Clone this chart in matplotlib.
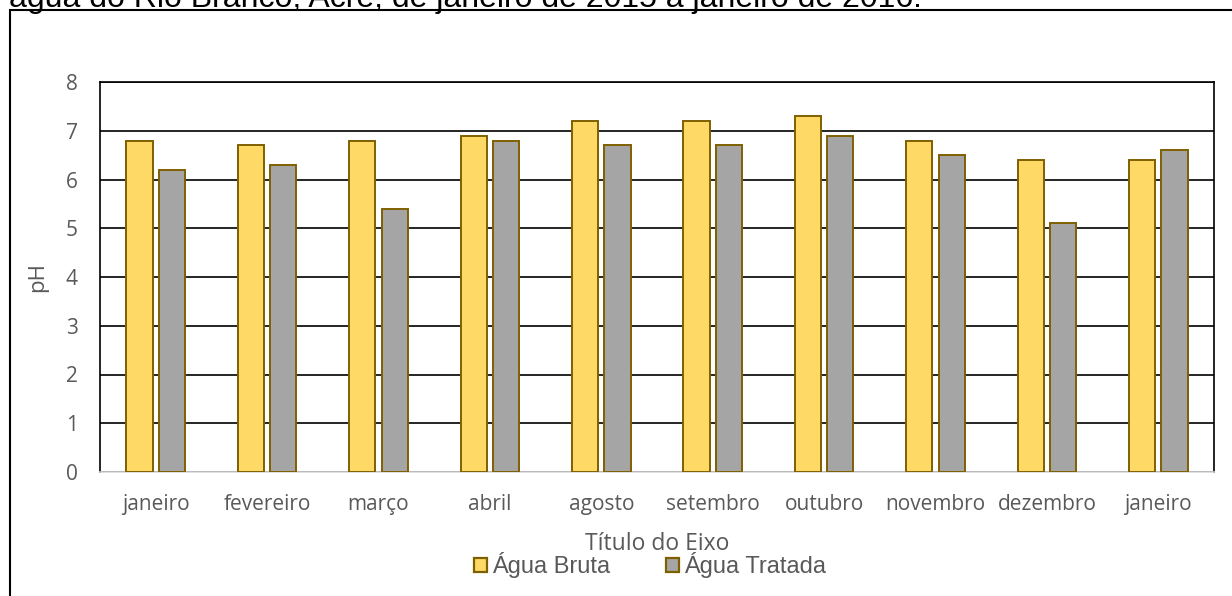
import numpy as np
import matplotlib
matplotlib.use("Agg")
import matplotlib.pyplot as plt
from matplotlib.patches import Rectangle, Patch

months = ["janeiro", "fevereiro", "março", "abril", "agosto", "setembro",
          "outubro", "novembro", "dezembro", "janeiro"]
ph_bruta = [6.8, 6.7, 6.8, 6.9, 7.2, 7.2, 7.3, 6.8, 6.4, 6.4]
ph_tratada = [6.2, 6.3, 5.4, 6.8, 6.7, 6.7, 6.9, 6.5, 5.1, 6.6]
series_names = ["Água Bruta", "Água Tratada"]
y_ticks = [0, 1, 2, 3, 4, 5, 6, 7, 8]

title_text = "água do Rio Branco, Acre, de janeiro de 2015 a janeiro de 2016."

c_bruta = "#FFD966"
c_tratada = "#A5A5A5"
c_edge = "#7F6000"
c_text = "#595959"

W, H = 1232, 596
fig = plt.figure(figsize=(W / 100, H / 100), dpi=100)

# outer chart border (partly outside the picture)
fig.patches.append(Rectangle((10 / W, -0.2), 1.2, 1.2 - 10 / H,
                             transform=fig.transFigure, fill=False,
                             edgecolor="black", linewidth=1.5))
# caption above the chart, cut off by the top edge as in the source
fig.text(9 / W, 1 - 7 / H, title_text, family="Liberation Sans",
         fontsize=23, color="black", ha="left", va="baseline")

ax = fig.add_axes([100 / W, 1 - 472 / H, (1214 - 100) / W, (472 - 82) / H])

x = np.arange(len(months))
bw = 0.235
off = 0.146
ax.bar(x - off, ph_bruta, bw, color=c_bruta, edgecolor=c_edge,
       linewidth=1.4, zorder=3)
ax.bar(x + off, ph_tratada, bw, color=c_tratada, edgecolor=c_edge,
       linewidth=1.4, zorder=3)

ax.set_xlim(-0.5, len(months) - 0.5)
ax.set_ylim(0, 8)
ax.set_yticks(y_ticks)
ax.set_xticks(x)
ax.set_xticklabels(months)
ax.yaxis.grid(True, color="black", linewidth=1.2, zorder=0)
ax.set_axisbelow(True)

for s in ["left", "right", "top"]:
    ax.spines[s].set_color("black")
    ax.spines[s].set_linewidth(1.2)
ax.spines["bottom"].set_color("#D9D9D9")
ax.spines["bottom"].set_linewidth(1.2)

ax.tick_params(axis="both", length=0, labelcolor=c_text, labelsize=15)
ax.tick_params(axis="y", pad=16)
ax.tick_params(axis="x", pad=16)
for lab in ax.get_xticklabels() + ax.get_yticklabels():
    lab.set_family("Open Sans")

fig.text(38 / W, 1 - 277 / H, "pH", family="Open Sans", fontsize=16,
         color=c_text, rotation=90, ha="center", va="center")
fig.text(657 / W, 1 - 544 / H, "Título do Eixo", family="Open Sans",
         fontsize=16.5, color=c_text, ha="center", va="center")

handles = [Patch(facecolor=c_bruta, edgecolor=c_edge, linewidth=1.6),
           Patch(facecolor=c_tratada, edgecolor=c_edge, linewidth=1.6)]
fig.legend(handles, series_names, loc="center",
           bbox_to_anchor=(650 / W, 1 - 565 / H), ncol=2, frameon=False,
           handlelength=0.55, handleheight=0.55, handletextpad=0.2,
           columnspacing=2.4, borderpad=0,
           prop={"family": "Liberation Sans", "size": 17},
           labelcolor=c_text)

fig.savefig("out.png", dpi=100)
